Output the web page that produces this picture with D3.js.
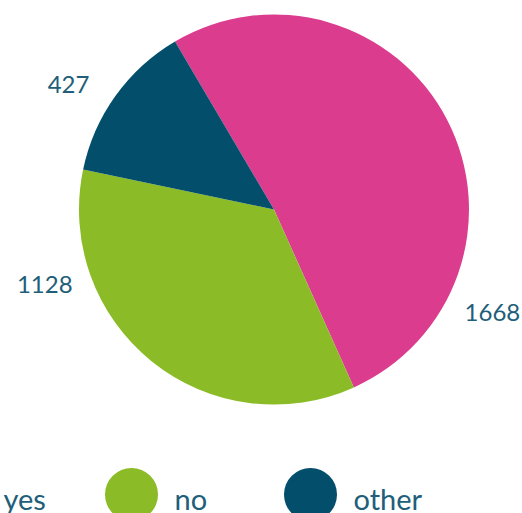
<!DOCTYPE html>
<html>
<head>
<meta charset="utf-8">
<script src="https://cdn.jsdelivr.net/npm/d3@7"></script>
<style>
  body { margin: 0; background: #fff; }
  svg { display: block; font-family: Lato, "Open Sans", sans-serif; }
</style>
</head>
<body>
<svg width="522" height="513"></svg>
<script>
const categories = ['yes', 'no', 'other'];
const values = [1668, 1128, 427];
const colors = ['#db3c8e', '#8bbb26', '#024e6b'];
// where each value label sits (degrees clockwise from top)
const labelAngles = [115, 252, -58.5];

const svg = d3.select('svg');
const width = +svg.attr('width');
const height = +svg.attr('height');

const cx = 274, cy = 209.5, radius = 195;
const startDeg = -30.5;
const textColor = '#215e79';

const data = categories.map((c, i) => ({ name: c, value: values[i], color: colors[i] }));

const pie = d3.pie()
    .value(d => d.value)
    .sort(null)
    .startAngle(startDeg * Math.PI / 180)
    .endAngle((startDeg + 360) * Math.PI / 180);

const arc = d3.arc()
    .innerRadius(0)
    .outerRadius(radius);

const g = svg.append('g')
    .attr('transform', `translate(${cx},${cy})`);

g.selectAll('path')
    .data(pie(data))
    .enter().append('path')
        .attr('d', arc)
        .attr('fill', d => d.data.color);

const labelR = 241;
g.selectAll('text.val')
    .data(data)
    .enter().append('text')
        .attr('class', 'val')
        .attr('x', (d, i) => labelR * Math.sin(labelAngles[i] * Math.PI / 180))
        .attr('y', (d, i) => -labelR * Math.cos(labelAngles[i] * Math.PI / 180))
        .attr('text-anchor', 'middle')
        .attr('dominant-baseline', 'central')
        .attr('font-size', 24)
        .attr('fill', textColor)
        .text(d => d.value);

// legend
const legendX = d3.scalePoint()
    .domain(categories)
    .range([-47.5, 310.5]);

const legend = svg.append('g')
    .attr('transform', 'translate(0,494.5)');

const item = legend.selectAll('g')
    .data(data)
    .enter().append('g')
        .attr('transform', d => `translate(${legendX(d.name)},0)`);

item.append('circle')
    .attr('r', 26.5)
    .attr('fill', d => d.color);

item.append('text')
    .attr('x', d => d.name === 'yes' ? 51 : 43)
    .attr('y', 15.5)
    .attr('font-size', 29)
    .attr('fill', textColor)
    .text(d => d.name);
</script>
</body>
</html>
